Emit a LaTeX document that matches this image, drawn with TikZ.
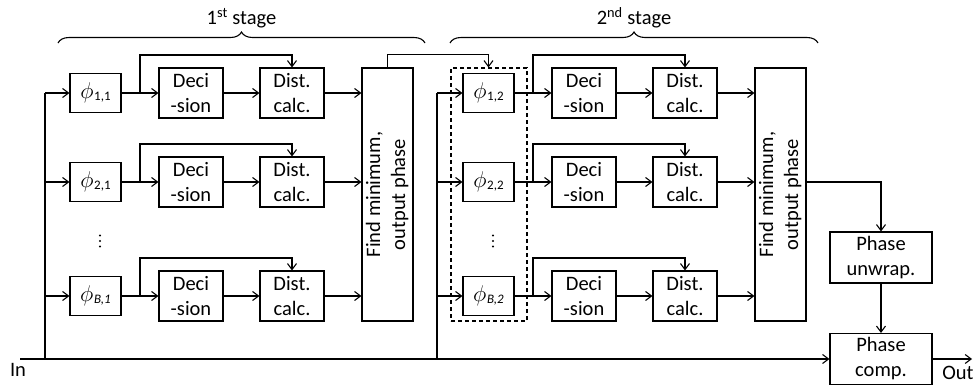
\documentclass[tikz,border=0pt]{standalone}
\usepackage{fontspec}
\setmainfont{Carlito}
\usetikzlibrary{arrows.meta,decorations.pathreplacing,calc}
\newcommand{\phsub}[1]{\scalebox{1.1}{$\phi$}\kern0.6pt\raisebox{-1.5pt}{\fontsize{13}{13}\selectfont #1}}
\begin{document}
\begin{tikzpicture}[x=1pt,y=-1pt,
  every node/.style={font=\fontsize{20.5}{25}\selectfont},
  box/.style={draw, line width=1.1pt, inner sep=0pt, align=center},
  phibox/.style={box, minimum width=51pt, minimum height=39pt},
  fbox/.style={box, minimum width=64pt, minimum height=50pt},
  fmbox/.style={box, minimum width=51pt, minimum height=253pt},
  obox/.style={box, minimum width=102pt, minimum height=51pt},
  wire/.style={line width=1.1pt},
  arr/.style={wire, -{Straight Barb[length=6pt,width=9pt]}},
  stagebrace/.style={wire, decorate, decoration={brace, amplitude=11pt}},
]
\useasboundingbox (0,0) rectangle (977,386);

% stage labels and braces
\draw[stagebrace] (58,43) -- (425,43);
\draw[stagebrace] (450,43) -- (818,43);
\node (st1) at (241.5,18) {1\textsuperscript{st} stage};
\node (st2) at (634,18) {2\textsuperscript{nd} stage};

% group box of second-stage rotators
\node[draw, dashed, dash pattern=on 4pt off 3pt, line width=1.1pt, inner sep=0pt,
      minimum width=76pt, minimum height=253pt] (grp) at (489,194.5) {};

\foreach \s/\dx in {1/0,2/393} {
  \node[fmbox] (fm-\s) at (387.5+\dx,194.5)
     {\rotatebox{90}{\begin{tabular}{@{}c@{}}Find minimum,\\output phase\end{tabular}}};
  % vertical ellipsis between rows
  \foreach \d in {235.5,241,246.5} {
    \fill (100+\dx,\d) circle (1.1pt);
  }
  \foreach \r/\y/\sub in {1/93/{1,\s}, 2/182/{2,\s}, B/296/{\textit{B,\s}}} {
    \node[phibox] (phi-\r-\s) at (95.5+\dx,\y) {\phsub{\sub}};
    \node[fbox] (dec-\r-\s) at (191+\dx,\y) {Deci\\-sion};
    \node[fbox] (dist-\r-\s) at (292+\dx,\y) {Dist.\\calc.};
    \coordinate (br-\r-\s) at (140+\dx,\y);
    \draw[wire] (phi-\r-\s.east) -- (br-\r-\s);
    \draw[arr] (br-\r-\s) -- (dec-\r-\s.west);
    \draw[arr] (br-\r-\s) |- ([yshift=12.5pt]dist-\r-\s.north) -- (dist-\r-\s.north);
    \draw[arr] (dec-\r-\s.east) -- (dist-\r-\s.west);
    \draw[arr] (dist-\r-\s.east) -- (dist-\r-\s.east -| fm-\s.west);
  }
}

% output blocks
\node[obox] (unwrap) at (881,257.5) {Phase\\unwrap.};
\node[obox] (comp) at (881,359) {Phase\\comp.};

% input buses
\coordinate (inpt) at (20,359);
\coordinate (bus1) at (45,359);
\coordinate (bus2) at (437,359);
\draw[arr] (inpt) -- (comp.west);
\draw[wire] (bus1) -- (bus1 |- phi-1-1.west);
\draw[wire] (bus2) -- (bus2 |- phi-1-2.west);
\foreach \r in {1,2,B} {
  \draw[arr] (bus1 |- phi-\r-1.west) -- (phi-\r-1.west);
  \draw[arr] (bus2 |- phi-\r-2.west) -- (phi-\r-2.west);
}

% first stage result to second stage
\coordinate (gtop) at (grp.north -| phi-1-2.north);
\draw[arr] (fm-1.north) |- ([yshift=13pt]gtop) -- (gtop);

% second stage result to output chain
\draw[arr] (fm-2.east |- dist-2-2.east) -| (unwrap.north);
\draw[arr] (unwrap.south) -- (comp.north);
\coordinate (outpt) at (972,359);
\draw[arr] (comp.east) -- (outpt);

\node (inlab) at (18,370) {In};
\node (outlab) at (958,373) {Out};
\end{tikzpicture}
\end{document}
